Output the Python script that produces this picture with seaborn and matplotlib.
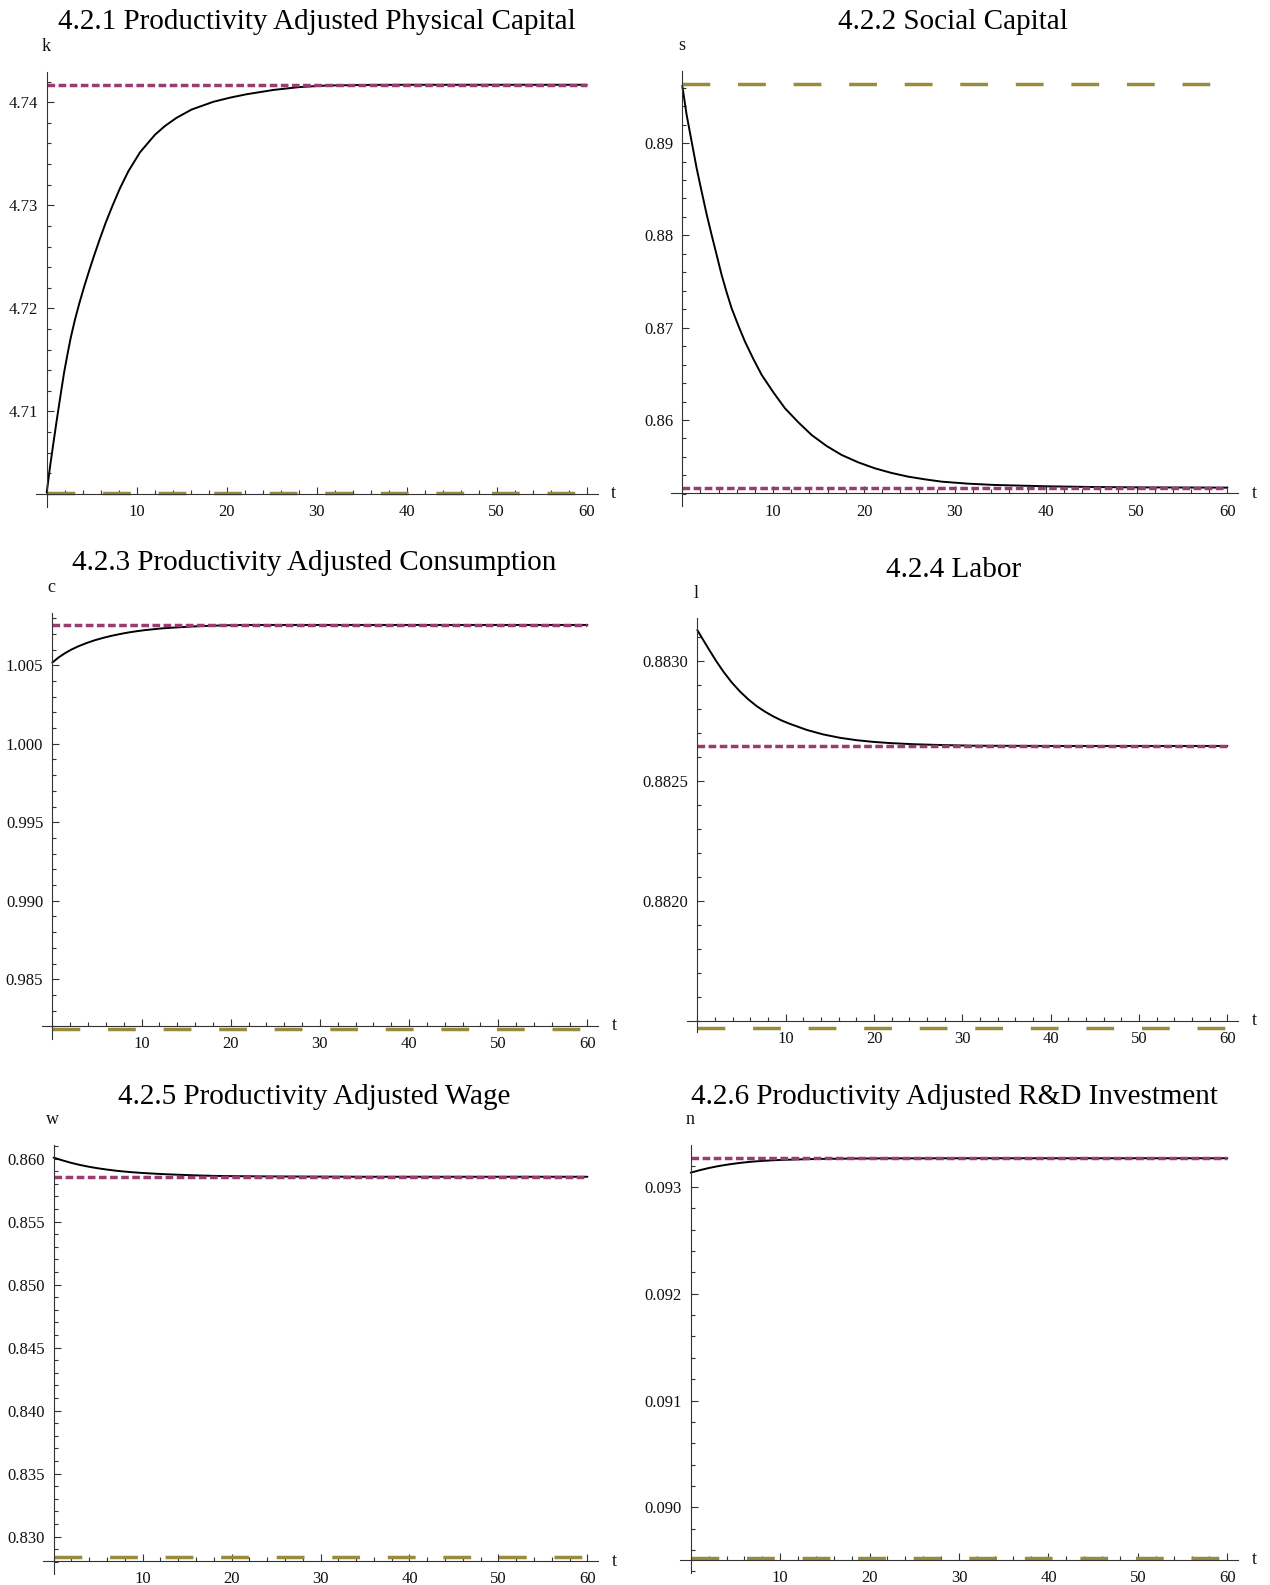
import matplotlib
matplotlib.use("Agg")
import matplotlib.pyplot as plt
from matplotlib.ticker import FixedLocator, MultipleLocator, FormatStrFormatter
import seaborn as sns

# ---------------- data: transition paths and steady states ----------------
t_k = [0, 0.37, 0.74, 1.11, 1.37, 1.66, 1.92, 2.29, 2.66, 3.14, 3.63, 4.18, 4.70,
       5.26, 5.85, 6.55, 7.33, 8.14, 9.07, 10.37, 12.03, 13.14, 14.44, 16.11,
       18.52, 20.37, 22.2, 25.2, 28.1, 31.1, 36, 40, 50, 60]
k_path = [4.7021, 4.70462, 4.70689, 4.70910, 4.71060, 4.71225, 4.71370, 4.71545,
          4.71710, 4.71890, 4.72050, 4.72215, 4.72360, 4.72510, 4.72660, 4.72830,
          4.73000, 4.73165, 4.73330, 4.73515, 4.73685, 4.73770, 4.73850, 4.73930,
          4.74005, 4.74045, 4.74078, 4.74120, 4.74148, 4.74163, 4.74169, 4.74170,
          4.74170, 4.74170]
k_new, k_old = 4.7417, 4.7021

t_s = [0, 0.48, 1.03, 1.58, 2.13, 2.68, 3.23, 3.78, 4.33, 4.88, 5.43, 6.17, 6.90,
       7.82, 8.74, 10.02, 11.30, 12.77, 14.24, 15.89, 17.54, 19.37, 21.21, 23.04,
       24.87, 26.71, 28.54, 31.48, 34.41, 40, 45, 50, 60]
s_path = [0.8962, 0.89304, 0.89015, 0.88727, 0.88474, 0.88228, 0.88004, 0.87788,
          0.87571, 0.87383, 0.87210, 0.87022, 0.86849, 0.86661, 0.86488, 0.86300,
          0.86127, 0.85975, 0.85837, 0.85718, 0.85621, 0.85541, 0.85476, 0.85426,
          0.85386, 0.85357, 0.85332, 0.85310, 0.85296, 0.85282, 0.85274, 0.85270,
          0.85267]
s_new, s_old = 0.85267, 0.89639

t_c = [0, 0.68, 1.42, 2.17, 2.92, 3.85, 4.79, 5.72, 6.66, 7.59, 8.53, 9.46, 10.39,
       12.26, 14.13, 16.0, 17.87, 19.74, 21.6, 30, 40, 50, 60]
c_path = [1.00517, 1.00549, 1.00577, 1.00601, 1.00621, 1.00642, 1.00660, 1.00675,
          1.00688, 1.00699, 1.00709, 1.00717, 1.00724, 1.00735, 1.00742, 1.00748,
          1.00752, 1.00755, 1.00757, 1.00757, 1.00757, 1.00757, 1.00757]
c_new, c_old = 1.00757, 0.9818

t_l = [0, 0.68, 1.44, 2.19, 2.95, 3.89, 4.83, 5.78, 6.72, 7.66, 8.61, 9.55, 10.49,
       12.38, 14.26, 16.15, 18.04, 19.92, 21.81, 24.64, 27.47, 31.24, 40, 50, 60]
l_path = [0.883128, 0.883086, 0.883040, 0.882996, 0.882955, 0.882910, 0.882872,
          0.882839, 0.882811, 0.882788, 0.882768, 0.882751, 0.882737, 0.882712,
          0.882693, 0.882679, 0.882669, 0.882662, 0.882657, 0.882652, 0.882649,
          0.882646, 0.882645, 0.882645, 0.882645]
l_new, l_old = 0.882645, 0.88147

t_w = [0, 1, 2, 3, 4, 5, 6, 7, 8, 9, 10, 12, 14, 16, 18, 20, 23, 26, 30, 35, 40,
       50, 60]
w_path = [0.86008, 0.85986, 0.85966, 0.85949, 0.85935, 0.85923, 0.85913, 0.85904,
          0.85897, 0.85891, 0.85886, 0.85878, 0.85872, 0.85867, 0.85863, 0.85861,
          0.85859, 0.85858, 0.85857, 0.85856, 0.85856, 0.85856, 0.85856]
w_new, w_old = 0.85856, 0.82837

t_n = [0, 1, 2, 3, 4, 5, 6, 7, 8, 9, 10, 12, 14, 16, 18, 20, 23, 26, 30, 35, 40,
       50, 60]
n_path = [0.093134, 0.093157, 0.093177, 0.093194, 0.093208, 0.093220, 0.093230,
          0.093238, 0.093244, 0.093249, 0.093253, 0.093258, 0.093262, 0.093264,
          0.093266, 0.093267, 0.093268, 0.093268, 0.093269, 0.093269, 0.093269,
          0.093269, 0.093269]
n_new, n_old = 0.093269, 0.089526

t_span = [0, 60]
x_major = [10, 20, 30, 40, 50, 60]

titles = ["4.2.1 Productivity Adjusted Physical Capital", "4.2.2 Social Capital",
          "4.2.3 Productivity Adjusted Consumption", "4.2.4 Labor",
          "4.2.5 Productivity Adjusted Wage", "4.2.6 Productivity Adjusted R&D Investment"]
var_names = ["k", "s", "c", "l", "w", "n"]

k_ticks = [4.71, 4.72, 4.73, 4.74]
s_ticks = [0.86, 0.87, 0.88, 0.89]
c_ticks = [0.985, 0.990, 0.995, 1.000, 1.005]
l_ticks = [0.8820, 0.8825, 0.8830]
w_ticks = [0.830, 0.835, 0.840, 0.845, 0.850, 0.855, 0.860]
n_ticks = [0.090, 0.091, 0.092, 0.093]

# ---------------- layout (figure pixels) ----------------
W, H = 1270, 1585
XLIM = (-1.2, 61.2)

panels = [
    dict(t=t_k, y=k_path, new=k_new, old=k_old, ticks=k_ticks, minor=0.002, fmt="%.2f",
         box=(35.9, 597.5, 71.7, 506.7), ylim=(4.70074, 4.74297), origin=4.7020,
         title_xy=(317, 22)),
    dict(t=t_s, y=s_path, new=s_new, old=s_old, ticks=s_ticks, minor=0.002, fmt="%.2f",
         box=(671.4, 1238.3, 70.7, 506.3), ylim=(0.85065, 0.89784), origin=0.85206,
         title_xy=(953, 22)),
    dict(t=t_c, y=c_path, new=c_new, old=c_old, ticks=c_ticks, minor=0.001, fmt="%.3f",
         box=(41.6, 598.2, 612.7, 1039), ylim=(0.98119, 1.00835), origin=0.98203,
         title_xy=(314.5, 562.5)),
    dict(t=t_l, y=l_path, new=l_new, old=l_old, ticks=l_ticks, minor=0.0001, fmt="%.4f",
         box=(686.7, 1238.0, 618.3, 1032), ylim=(0.881453, 0.883177), origin=0.8815,
         title_xy=(953.5, 569.5)),
    dict(t=t_w, y=w_path, new=w_new, old=w_old, ticks=w_ticks, minor=0.001, fmt="%.3f",
         box=(42.9, 598.1, 1145, 1574), ylim=(0.82704, 0.86108), origin=0.82807,
         title_xy=(314.5, 1096.5)),
    dict(t=t_n, y=n_path, new=n_new, old=n_old, ticks=n_ticks, minor=0.0002, fmt="%.3f",
         box=(680.0, 1238.1, 1145, 1573), ylim=(0.089385, 0.093393), origin=0.089507,
         title_xy=(954, 1096.5)),
]

PURPLE = (0.6, 0.24, 0.442893)
OLIVE = (0.6, 0.547014, 0.24)
AXIS_COLOR = "#333333"
PX = 0.72  # points per pixel at 100 dpi

sns.set_style("white")
plt.rcParams["font.family"] = ["Liberation Serif", "DejaVu Serif"]

fig = plt.figure(figsize=(W / 100, H / 100), dpi=100)

for p, title, name in zip(panels, titles, var_names):
    left, right, top, bottom = p["box"]
    ax = fig.add_axes([left / W, 1 - bottom / H, (right - left) / W, (bottom - top) / H])
    ax.set_facecolor("none")

    sns.lineplot(x=p["t"], y=p["y"], ax=ax, color="black", linewidth=1.4,
                 estimator=None, sort=False)
    sns.lineplot(x=t_span, y=[p["new"], p["new"]], ax=ax, color=PURPLE, linewidth=2.5,
                 linestyle=(0, (2.2, 1.0)), estimator=None)
    sns.lineplot(x=t_span, y=[p["old"], p["old"]], ax=ax, color=OLIVE, linewidth=2.5,
                 linestyle=(0, (8.0, 8.0)), estimator=None)

    ax.set_xlim(*XLIM)
    ax.set_ylim(*p["ylim"])
    ax.set_xlabel("")
    ax.set_ylabel("")

    # Axes crossing at the origin of the transition
    for side in ("top", "right"):
        ax.spines[side].set_visible(False)
    ax.spines["left"].set_position(("data", 0))
    ax.spines["bottom"].set_position(("data", p["origin"]))
    for side in ("left", "bottom"):
        ax.spines[side].set_color(AXIS_COLOR)
        ax.spines[side].set_linewidth(0.8)

    ax.xaxis.set_major_locator(FixedLocator(x_major))
    ax.xaxis.set_minor_locator(MultipleLocator(2))
    ax.xaxis.set_major_formatter(FormatStrFormatter("%d"))
    ax.yaxis.set_major_locator(FixedLocator(p["ticks"]))
    ax.yaxis.set_minor_locator(MultipleLocator(p["minor"]))
    ax.yaxis.set_major_formatter(FormatStrFormatter(p["fmt"]))

    ax.tick_params(which="both", direction="in", color=AXIS_COLOR, width=0.8,
                   bottom=True, left=True, top=False, right=False,
                   labelsize=12, labelcolor="#111111")
    ax.tick_params(which="major", length=5.0)
    ax.tick_params(which="minor", length=2.9)
    ax.tick_params(axis="x", which="major", pad=7.5)
    ax.tick_params(axis="y", which="major", pad=6.5)

    # variable names at the ends of the axes
    ax.annotate(name, xy=(0, p["ylim"][1]), xycoords="data",
                xytext=(-1 * PX, 25 * PX), textcoords="offset points",
                ha="center", va="center", fontsize=13, color="#111111")
    ax.annotate("t", xy=(XLIM[1], p["origin"]), xycoords="data",
                xytext=(16 * PX, 0), textcoords="offset points",
                ha="center", va="center", fontsize=13, color="#111111")

    tx, ty = p["title_xy"]
    fig.text(tx / W, 1 - ty / H, title, ha="center", va="center", fontsize=21,
             color="black")

fig.savefig("out.png", dpi=100, facecolor="white")
